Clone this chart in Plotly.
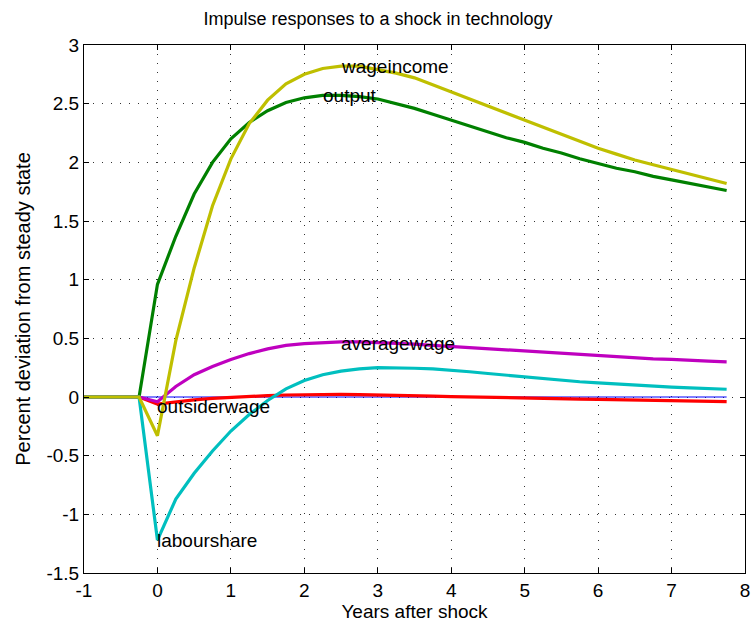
import plotly.graph_objects as go

years = [-1 + 0.25 * i for i in range(36)]

output = [0, 0, 0, 0, 0.96, 1.37, 1.73, 2.0, 2.2, 2.34, 2.44, 2.51, 2.55, 2.57, 2.57, 2.56,
          2.54, 2.5, 2.46, 2.41, 2.36, 2.31, 2.26, 2.21, 2.17, 2.12, 2.08, 2.03, 1.99, 1.95,
          1.92, 1.88, 1.85, 1.82, 1.79, 1.76]
wageincome = [0, 0, 0, 0, -0.33, 0.48, 1.1, 1.63, 2.03, 2.33, 2.53, 2.67, 2.75, 2.8, 2.82, 2.82,
              2.79, 2.76, 2.72, 2.66, 2.6, 2.54, 2.48, 2.42, 2.36, 2.3, 2.24, 2.18, 2.12, 2.07,
              2.02, 1.98, 1.94, 1.9, 1.86, 1.82]
averagewage = [0, 0, 0, 0, -0.04, 0.09, 0.19, 0.26, 0.32, 0.37, 0.41, 0.44, 0.455, 0.465, 0.47, 0.47,
               0.465, 0.46, 0.45, 0.44, 0.43, 0.42, 0.41, 0.40, 0.39, 0.38, 0.37, 0.365, 0.355, 0.345,
               0.335, 0.325, 0.32, 0.31, 0.305, 0.30]
outsiderwage = [0, 0, 0, 0, -0.06, -0.04, -0.025, -0.012, -0.003, 0.005, 0.012, 0.017, 0.02, 0.022,
                0.022, 0.021, 0.019, 0.016, 0.012, 0.008, 0.004, 0.0, -0.003, -0.006, -0.009, -0.012,
                -0.015, -0.018, -0.021, -0.024, -0.027, -0.03, -0.032, -0.035, -0.037, -0.04]
labourshare = [0, 0, 0, 0, -1.22, -0.87, -0.65, -0.46, -0.29, -0.15, -0.03, 0.07, 0.14, 0.19, 0.22,
               0.24, 0.25, 0.25, 0.245, 0.24, 0.23, 0.215, 0.2, 0.185, 0.17, 0.16, 0.145, 0.13, 0.12,
               0.11, 0.1, 0.09, 0.085, 0.078, 0.072, 0.066]
zero_line = [0] * 36

labels = ["output", "wageincome", "averagewage", "outsiderwage", "labourshare"]
label_x = [2.25, 2.5, 2.5, 0, 0]
label_y = [2.57, 2.82, 0.46, -0.08, -1.22]

x_ticks = [-1, 0, 1, 2, 3, 4, 5, 6, 7, 8]
y_ticks = [-1.5, -1, -0.5, 0, 0.5, 1, 1.5, 2, 2.5, 3]
y_ticktext = ["-1.5", "-1", "-0.5", "0", "0.5", "1", "1.5", "2", "2.5", "3"]
x_ticktext = ["-1", "0", "1", "2", "3", "4", "5", "6", "7", "8"]

FONT = "Liberation Sans, Arial, Helvetica, sans-serif"

fig = go.Figure()
fig.add_trace(go.Scatter(x=years, y=zero_line, mode="lines", line=dict(color="#0000ff", width=1.2)))
fig.add_trace(go.Scatter(x=years, y=outsiderwage, mode="lines", line=dict(color="#ff0000", width=3.2)))
fig.add_trace(go.Scatter(x=years, y=output, mode="lines", line=dict(color="#008000", width=3.2)))
fig.add_trace(go.Scatter(x=years, y=averagewage, mode="lines", line=dict(color="#bf00bf", width=3.2)))
fig.add_trace(go.Scatter(x=years, y=labourshare, mode="lines", line=dict(color="#00bfbf", width=3.2)))
fig.add_trace(go.Scatter(x=years, y=wageincome, mode="lines", line=dict(color="#bfbf00", width=3.2)))

for t, lx, ly in zip(labels, label_x, label_y):
    fig.add_annotation(x=lx, y=ly, text=t, showarrow=False, xanchor="left", yanchor="middle",
                       xshift=-1, borderpad=0, font=dict(size=19, color="black", family=FONT))

axis_common = dict(
    showline=True, linecolor="black", linewidth=1, mirror="allticks",
    ticks="inside", ticklen=5, tickcolor="black",
    showgrid=True, gridcolor="#333333", griddash="1px,8px", gridwidth=1,
    zeroline=False, tickfont=dict(size=19, color="black", family=FONT),
)

fig.update_layout(
    width=756, height=625,
    margin=dict(l=84, r=6, t=45, b=52),
    paper_bgcolor="white", plot_bgcolor="white",
    showlegend=False,
    font=dict(family=FONT, color="black"),
    title=dict(text="Impulse responses to a shock in technology", x=0.5, xanchor="center",
               y=0.97, yanchor="middle", font=dict(size=18, color="black", family=FONT)),
    xaxis=dict(range=[-1, 8], tickvals=x_ticks, ticktext=x_ticktext,
               title=dict(text="Years after shock", font=dict(size=19, family=FONT), standoff=2),
               **axis_common),
    yaxis=dict(range=[-1.5, 3], tickvals=y_ticks, ticktext=y_ticktext,
               title=dict(text="Percent deviation from steady state", font=dict(size=20, family=FONT), standoff=10),
               **axis_common),
)

fig.write_html("out.html")
